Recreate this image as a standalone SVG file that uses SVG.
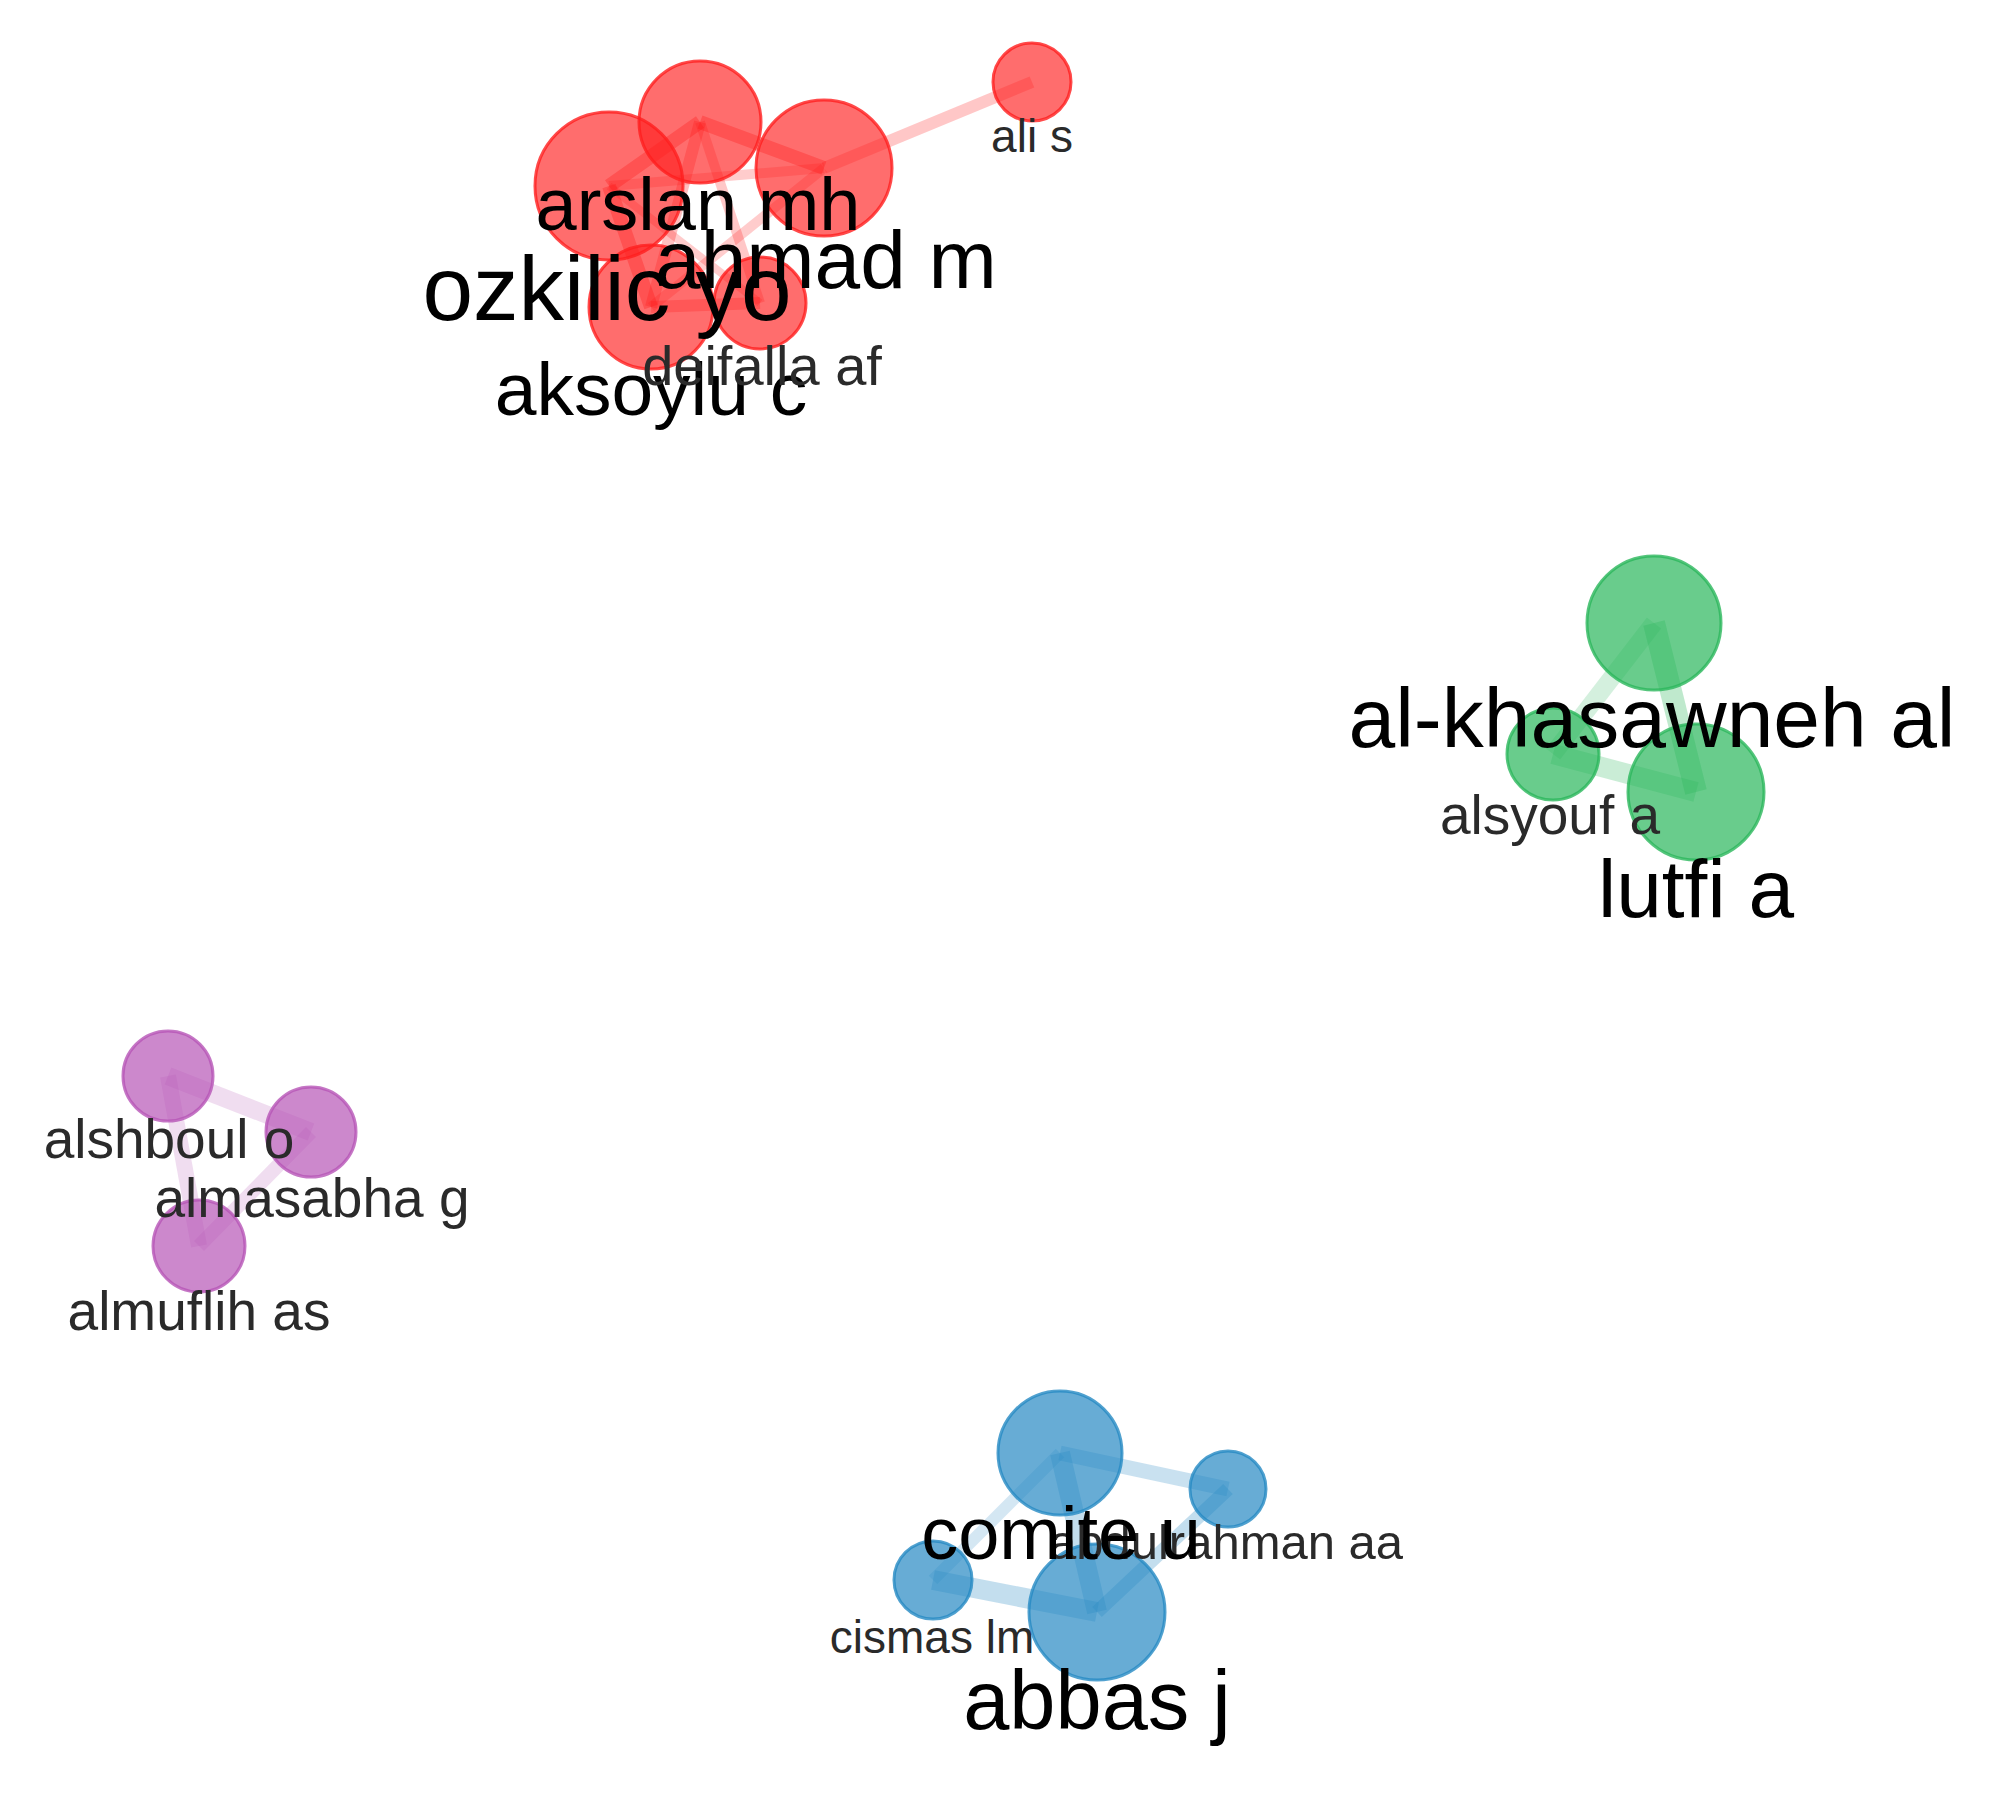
<svg xmlns="http://www.w3.org/2000/svg" width="2008" height="1794" viewBox="0 0 2008 1794">
<style>
text{font-family:"Liberation Sans",Arial,sans-serif;text-anchor:middle;fill:#000}
.sm{fill:#2a2a2a}
.r circle{fill:#ff1e1e;fill-opacity:.65;stroke:#ff1e1e;stroke-opacity:.8;stroke-width:3}
.g circle{fill:#2ab65b;fill-opacity:.7;stroke:#2ab65b;stroke-opacity:.8;stroke-width:3}
.b circle{fill:#2689c3;fill-opacity:.7;stroke:#2689c3;stroke-opacity:.8;stroke-width:3}
.p circle{fill:#b655b6;fill-opacity:.7;stroke:#b655b6;stroke-opacity:.8;stroke-width:3}
#edges line{stroke-linecap:butt}
.er{stroke:#ff0000}.eg{stroke:#2ab65b}.eb{stroke:#2689c3}.ep{stroke:#b655b6}
</style>
<rect width="2008" height="1794" fill="#fff"/>
<g id="edges">
<line class="er" x1="1032" y1="82" x2="824" y2="168" stroke-width="12" stroke-opacity=".22"/>
<line class="er" x1="700" y1="122" x2="609" y2="186" stroke-width="14" stroke-opacity=".3"/>
<line class="er" x1="700" y1="122" x2="824" y2="168" stroke-width="14" stroke-opacity=".3"/>
<line class="er" x1="700" y1="122" x2="651" y2="307" stroke-width="12" stroke-opacity=".25"/>
<line class="er" x1="700" y1="122" x2="760" y2="303" stroke-width="10" stroke-opacity=".22"/>
<line class="er" x1="609" y1="186" x2="824" y2="168" stroke-width="10" stroke-opacity=".2"/>
<line class="er" x1="609" y1="186" x2="651" y2="307" stroke-width="14" stroke-opacity=".3"/>
<line class="er" x1="824" y1="168" x2="651" y2="307" stroke-width="10" stroke-opacity=".2"/>
<line class="er" x1="651" y1="307" x2="760" y2="303" stroke-width="12" stroke-opacity=".25"/>
<line class="er" x1="609" y1="186" x2="760" y2="303" stroke-width="8" stroke-opacity=".2"/>
<line class="eg" x1="1654" y1="623" x2="1553" y2="754" stroke-width="18" stroke-opacity=".2"/>
<line class="eg" x1="1654" y1="623" x2="1696" y2="792" stroke-width="22" stroke-opacity=".3"/>
<line class="eg" x1="1553" y1="754" x2="1696" y2="792" stroke-width="20" stroke-opacity=".25"/>
<line class="ep" x1="168" y1="1076" x2="311" y2="1132" stroke-width="18" stroke-opacity=".2"/>
<line class="ep" x1="168" y1="1076" x2="199" y2="1246" stroke-width="16" stroke-opacity=".2"/>
<line class="ep" x1="311" y1="1132" x2="199" y2="1246" stroke-width="14" stroke-opacity=".2"/>
<line class="eb" x1="1060" y1="1453" x2="1228" y2="1489" stroke-width="15" stroke-opacity=".25"/>
<line class="eb" x1="1060" y1="1453" x2="933" y2="1580" stroke-width="12" stroke-opacity=".2"/>
<line class="eb" x1="1060" y1="1453" x2="1097" y2="1612" stroke-width="20" stroke-opacity=".28"/>
<line class="eb" x1="933" y1="1580" x2="1097" y2="1612" stroke-width="20" stroke-opacity=".28"/>
<line class="eb" x1="1228" y1="1489" x2="1097" y2="1612" stroke-width="14" stroke-opacity=".28"/>
</g>
<g id="node-aksoylu-c" class="r"><circle cx="651" cy="307" r="62"/><text x="651" y="415" font-size="75">aksoylu c</text></g>
<g id="node-deifalla-af" class="r"><circle cx="760" cy="303" r="46"/><text class="sm" x="762" y="385" font-size="56">deifalla af</text></g>
<g id="node-ozkilic-yo" class="r"><circle cx="609" cy="186" r="74"/><text x="607" y="320" font-size="91">ozkilic yo</text></g>
<g id="node-ahmad-m" class="r"><circle cx="824" cy="168" r="68"/><text x="826" y="288" font-size="82">ahmad m</text></g>
<g id="node-arslan-mh" class="r"><circle cx="700" cy="122" r="61"/><text x="698" y="230" font-size="74">arslan mh</text></g>
<g id="node-ali-s" class="r"><circle cx="1032" cy="82" r="39"/><text class="sm" x="1032" y="152" font-size="46">ali s</text></g>
<g id="node-lutfi-a" class="g"><circle cx="1696" cy="792" r="68"/><text x="1696" y="917" font-size="82">lutfi a</text></g>
<g id="node-alsyouf-a" class="g"><circle cx="1553" cy="754" r="46"/><text class="sm" x="1550" y="834" font-size="55">alsyouf a</text></g>
<g id="node-al-khasawneh-al" class="g"><circle cx="1654" cy="623" r="67"/><text x="1652" y="747" font-size="84">al-khasawneh al</text></g>
<g id="node-almuflih-as" class="p"><circle cx="199" cy="1246" r="46"/><text class="sm" x="199" y="1330" font-size="55">almuflih as</text></g>
<g id="node-almasabha-g" class="p"><circle cx="311" cy="1132" r="45"/><text class="sm" x="312" y="1217" font-size="55">almasabha g</text></g>
<g id="node-alshboul-o" class="p"><circle cx="168" cy="1076" r="45"/><text class="sm" x="169" y="1158" font-size="55">alshboul o</text></g>
<g id="node-abbas-j" class="b"><circle cx="1097" cy="1612" r="68"/><text x="1097" y="1729" font-size="83">abbas j</text></g>
<g id="node-cismas-lm" class="b"><circle cx="933" cy="1580" r="39"/><text class="sm" x="932" y="1653" font-size="46">cismas lm</text></g>
<g id="node-abdulrahman-aa" class="b"><circle cx="1228" cy="1489" r="38"/><text class="sm" x="1226" y="1559" font-size="49">abdulrahman aa</text></g>
<g id="node-comite-u" class="b"><circle cx="1060" cy="1453" r="62"/><text x="1061" y="1559" font-size="74">comite u</text></g>
</svg>
